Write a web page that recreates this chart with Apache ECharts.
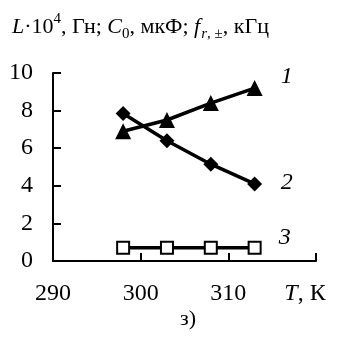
<!DOCTYPE html>
<html>
<head>
<meta charset="utf-8">
<script src="https://cdn.jsdelivr.net/npm/echarts@6/dist/echarts.min.js"></script>
<style>
  html, body { margin: 0; padding: 0; background: #fff; }
  #chart { width: 337px; height: 352px; }
</style>
</head>
<body>
<div id="chart"></div>
<script>
// Temperature, K
const temperatures = [298, 303, 308, 313];
// Curve 1: L·10^4, Гн
const inductance = [6.9, 7.5, 8.4, 9.2];
// Curve 2: C0, мкФ
const capacitance = [7.85, 6.4, 5.15, 4.1];
// Curve 3: f r,±, кГц
const frequency = [0.7, 0.7, 0.7, 0.7];
const curveNames = ['1', '2', '3'];
const xTicks = [290, 300, 310];
const yTicks = [0, 2, 4, 6, 8, 10];

const FONT = '"Liberation Serif", "Times New Roman", serif';
const pairs = (ys) => temperatures.map((t, i) => [t, ys[i]]);

const chart = echarts.init(document.getElementById('chart'), null, { renderer: 'canvas' });

const lineSeries = (name, ys, symbol, size, offset) => ({
  name: name,
  type: 'line',
  data: pairs(ys),
  symbol: symbol,
  symbolSize: size,
  showAllSymbol: true,
  lineStyle: { color: '#000', width: 3.5 },
  itemStyle: { color: '#000', borderColor: '#000', borderWidth: symbol === 'emptyRect' ? 2 : 0 },
  animation: false,
  endLabel: {
    show: true,
    formatter: name,
    offset: offset,
    fontFamily: FONT,
    fontStyle: 'italic',
    fontSize: 24,
    color: '#000'
  }
});

const TS = 22;   // title font size
const SS = 15;   // sub/superscript size

chart.setOption({
  animation: false,
  title: {
    left: 7,
    top: 5,
    text: '{i|L}·10{sup|4}, Гн; {i|C}{sub|0}, мкФ; {si|f}{subi|r}{sub|, ±}, кГц',
    textStyle: {
      fontFamily: FONT,
      fontSize: TS,
      fontWeight: 'normal',
      color: '#000',
      lineHeight: 34,
      rich: {
        i: { fontFamily: FONT, fontSize: TS, fontStyle: 'italic', color: '#000', lineHeight: 34 },
        si: { fontFamily: FONT, fontSize: TS, fontStyle: 'italic', color: '#000', lineHeight: 34, padding: [0, 1, 0, 0] },
        sup: { fontFamily: FONT, fontSize: SS, color: '#000', verticalAlign: 'top', lineHeight: 34, padding: [2, 0, 0, 0] },
        sub: { fontFamily: FONT, fontSize: SS, color: '#000', verticalAlign: 'bottom', lineHeight: 34, padding: [0, 0, 2, 0] },
        subi: { fontFamily: FONT, fontSize: SS, fontStyle: 'italic', color: '#000', verticalAlign: 'bottom', lineHeight: 34, padding: [0, 0, 2, 0] }
      }
    }
  },
  grid: { left: 53, right: 21, top: 73, bottom: 91, containLabel: false, outerBoundsMode: 'none' },
  xAxis: {
    type: 'value',
    min: 290,
    max: 320,
    interval: 10,
    axisLine: { lineStyle: { color: '#000', width: 2 } },
    axisTick: { show: true, inside: true, length: 8, lineStyle: { color: '#000', width: 2 } },
    splitLine: { show: false },
    axisLabel: {
      margin: 21,
      fontFamily: FONT,
      fontSize: 24,
      color: '#000',
      showMaxLabel: true,
      formatter: (v) => xTicks.indexOf(v) >= 0 ? String(v) : '{i|T}{u|, К}',
      rich: {
        u: { fontFamily: FONT, fontSize: 24, color: '#000', padding: [0, 22, 0, 0] },
        i: { fontFamily: FONT, fontSize: 24, color: '#000', fontStyle: 'italic' }
      }
    }
  },
  yAxis: {
    type: 'value',
    min: yTicks[0],
    max: yTicks[yTicks.length - 1],
    interval: 2,
    axisLine: { show: true, lineStyle: { color: '#000', width: 2 } },
    axisTick: { show: true, inside: true, length: 8, lineStyle: { color: '#000', width: 2 } },
    splitLine: { show: false },
    axisLabel: { margin: 20, fontFamily: FONT, fontSize: 24, color: '#000' }
  },
  series: [
    lineSeries(curveNames[0], inductance, 'triangle', 16, [18, -11]),
    lineSeries(curveNames[1], capacitance, 'diamond', 15, [18, -1]),
    lineSeries(curveNames[2], frequency, 'emptyRect', 12, [16, -10])
  ],
  graphic: [{
    type: 'text',
    left: 180,
    top: 308,
    style: { text: 'з)', fontFamily: FONT, fontSize: 22, fill: '#000' }
  }]
});
</script>
</body>
</html>
